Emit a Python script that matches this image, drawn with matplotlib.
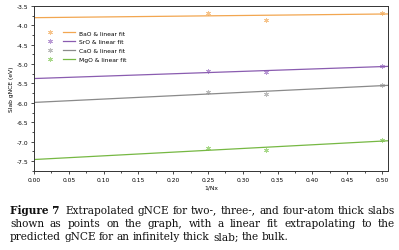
import numpy as np
import matplotlib
matplotlib.use('Agg')
import matplotlib.pyplot as plt
from matplotlib.ticker import MultipleLocator, FormatStrFormatter
from matplotlib.legend_handler import HandlerTuple

# ── Data ────────────────────────────────────────────────
inv_nx = [0.25, 1 / 3, 0.5]
bao    = [-3.68, -3.85, -3.67]
sro    = [-5.19, -5.21, -5.05]
cao    = [-5.72, -5.78, -5.53]
mgo    = [-7.17, -7.23, -6.96]

labels  = ['BaO & linear fit', 'SrO & linear fit',
           'CaO & linear fit', 'MgO & linear fit']
colors  = ['#f2a650', '#8a5cb0', '#8a8a8a', '#76b843']
mcolors = ['#f6c48c', '#b99ad4', '#bdbdbd', '#a9d98a']

caption = [
    'Figure 7  Extrapolated gNCE for two-, three-, and four-atom thick slabs',
    'shown as points on the graph, with a linear fit extrapolating to the',
    'predicted gNCE for an infinitely thick slab; the bulk.',
]

W, H = 399, 251
fig = plt.figure(figsize=(W / 100, H / 100), dpi=100)
ax = fig.add_axes([34 / W, 1 - 172 / H, 354 / W, 165 / H])

xfit = np.array([0.0, 0.51])
handles = []
for ys, c, mc in zip([bao, sro, cao, mgo], colors, mcolors):
    k, b = np.polyfit(inv_nx, ys, 1)
    pts, = ax.plot(inv_nx, ys, ls='none', marker=(6, 2, 0), ms=3.5, mew=0.6,
                   color=mc)
    fit, = ax.plot(xfit, k * xfit + b, color=c, lw=0.9)
    handles.append((pts, fit))

ax.set_xlim(0, 0.5086)
ax.set_ylim(-7.76, -3.5)
ax.xaxis.set_major_locator(MultipleLocator(0.05))
ax.xaxis.set_minor_locator(MultipleLocator(0.025))
ax.yaxis.set_major_locator(MultipleLocator(0.5))
ax.yaxis.set_minor_locator(MultipleLocator(0.25))
ax.tick_params(which='both', direction='out', labelsize=4.3, width=0.5,
               top=False, right=False, pad=1.5)
ax.tick_params(which='major', length=2.5)
ax.tick_params(which='minor', length=1.5)
ax.xaxis.set_major_formatter(FormatStrFormatter('%.2f'))
ax.yaxis.set_major_formatter(FormatStrFormatter('%.1f'))
for s in ax.spines.values():
    s.set_linewidth(0.7)
    s.set_color('#333333')
ax.set_xlabel('1/Nx', fontsize=4.3, labelpad=2)
ax.set_ylabel('Slab gNCE (eV)', fontsize=4.3, labelpad=2)

ax.legend(handles, labels, loc='upper left', bbox_to_anchor=(0.015, 0.885),
          frameon=False, fontsize=4.3, handlelength=5.0, handletextpad=0.7,
          labelspacing=0.62,
          handler_map={tuple: HandlerTuple(ndivide=None, pad=1.2)})

# ── Caption (justified, serif) ──────────────────────────
renderer = fig.canvas.get_renderer()
x0, x1 = 10, 395
fs = 7.6
line_y = [210.5, 224, 237.5]
for i, line in enumerate(caption):
    y = 1 - line_y[i] / H
    words = line.split()
    if i == 0:
        words = ['Figure 7'] + words[2:]
    arts = []
    for j, w in enumerate(words):
        bold = (i == 0 and j == 0)
        arts.append(fig.text(0, y, w, fontsize=fs, family='DejaVu Serif',
                             color='#111111',
                             weight='bold' if bold else 'normal',
                             va='center', ha='left'))
    widths = [a.get_window_extent(renderer).width for a in arts]
    extra = fs * 0.3
    if i < len(caption) - 1:
        gap = (x1 - x0 - sum(widths) - (extra if i == 0 else 0)) / (len(words) - 1)
    else:
        gap = fs * 0.4
    x = x0
    for j, (a, wd) in enumerate(zip(arts, widths)):
        a.set_x(x / W)
        x += wd + gap + (extra if (i == 0 and j == 0) else 0)

fig.savefig('out.png', dpi=100)
